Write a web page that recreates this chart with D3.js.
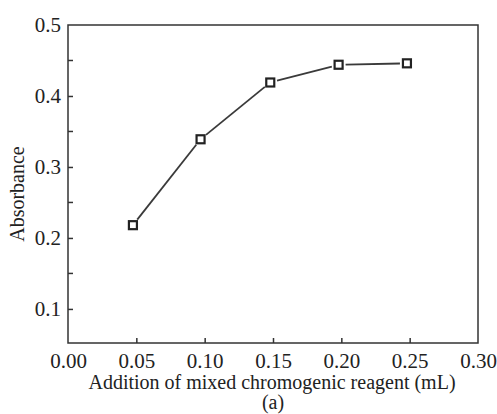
<!DOCTYPE html>
<html>
<head>
<meta charset="utf-8">
<script src="https://cdn.jsdelivr.net/npm/d3@7"></script>
<style>
body{margin:0;background:#fff;}
svg text{font-family:"Liberation Serif",serif !important;fill:#222;}
</style>
</head>
<body>
<svg id="svg" width="497" height="414"></svg>
<script>
// reagent volume (mL) and absorbance
var volume = [0.0475, 0.097, 0.148, 0.198, 0.248];
var absorbance = [0.218, 0.339, 0.419, 0.444, 0.446];
var xTicks = [0.00, 0.05, 0.10, 0.15, 0.20, 0.25, 0.30];
var yTicks = [0.1, 0.2, 0.3, 0.4, 0.5];
var yMinor = [0.15, 0.25, 0.35, 0.45];

var svg = d3.select("#svg");
var plotLeft = 68, plotTop = 25, plotRight = 478, plotBottom = 343;

var x = d3.scaleLinear().domain([0, 0.30]).range([plotLeft, plotRight]);
var y = d3.scaleLinear().domain([0.052, 0.5]).range([plotBottom, plotTop]);

// frame
svg.append("rect")
 .attr("x", plotLeft).attr("y", plotTop)
 .attr("width", plotRight - plotLeft).attr("height", plotBottom - plotTop)
 .style("fill", "none").style("stroke", "#333").style("stroke-width", 1.5);

// x axis
var xAxis = svg.append("g").attr("transform", "translate(0," + plotBottom + ")")
 .call(d3.axisBottom(x).tickValues(xTicks).tickFormat(d3.format(".2f")).tickSizeInner(-5).tickSizeOuter(0).tickPadding(10));
xAxis.select(".domain").remove();
xAxis.selectAll("line").style("stroke", "#333").style("stroke-width", 1.5);
xAxis.selectAll(".tick").filter(function(d){ return d == 0 || d == 0.30; }).select("line").remove();
xAxis.selectAll("text").style("font-size", "21px").style("fill", "#222");

// y axis
var yAxis = svg.append("g").attr("transform", "translate(" + plotLeft + ",0)")
 .call(d3.axisLeft(y).tickValues(yTicks).tickFormat(d3.format(".1f")).tickSizeInner(-5).tickSizeOuter(0).tickPadding(7));
yAxis.select(".domain").remove();
yAxis.selectAll("line").style("stroke", "#333").style("stroke-width", 1.5);
yAxis.selectAll(".tick").filter(function(d){ return d == 0.5; }).select("line").remove();
yAxis.selectAll("text").style("font-size", "21px").style("fill", "#222");

svg.append("g").selectAll("line").data(yMinor).enter().append("line")
 .attr("x1", plotLeft).attr("x2", plotLeft + 5)
 .attr("y1", function(d){ return y(d); }).attr("y2", function(d){ return y(d); })
 .style("stroke", "#333").style("stroke-width", 1.5);

// line segments, stopping short of the markers
var pts = volume.map(function(v, i){ return [x(v), y(absorbance[i])]; });
var gap = 7;
for (var i = 0; i < pts.length - 1; i++) {
 var a = pts[i], b = pts[i + 1];
 var dx = b[0] - a[0], dy = b[1] - a[1], len = Math.sqrt(dx*dx + dy*dy);
 var ux = dx / len, uy = dy / len;
 svg.append("line")
 .attr("x1", a[0] + ux*gap).attr("y1", a[1] + uy*gap)
 .attr("x2", b[0] - ux*gap).attr("y2", b[1] - uy*gap)
 .style("stroke", "#3a3a3a").style("stroke-width", 1.8);
}

// markers
svg.append("g").selectAll("rect").data(volume).enter().append("rect")
 .attr("x", function(d){ return x(d) - 4; })
 .attr("y", function(d, i){ return y(absorbance[i]) - 4; })
 .attr("width", 8).attr("height", 8)
 .style("fill", "#fff").style("stroke", "#222").style("stroke-width", 2.2);

// titles
svg.append("text")
 .attr("transform", "translate(24,194) rotate(-90)")
 .attr("text-anchor", "middle")
 .style("font-size", "20px")
 .text("Absorbance");

svg.append("text")
 .attr("x", 272).attr("y", 389)
 .attr("text-anchor", "middle")
 .style("font-size", "20px")
 .text("Addition of mixed chromogenic reagent (mL)");

svg.append("text")
 .attr("x", 273).attr("y", 409)
 .attr("text-anchor", "middle")
 .style("font-size", "20px")
 .text("(a)");
</script>
</body>
</html>
